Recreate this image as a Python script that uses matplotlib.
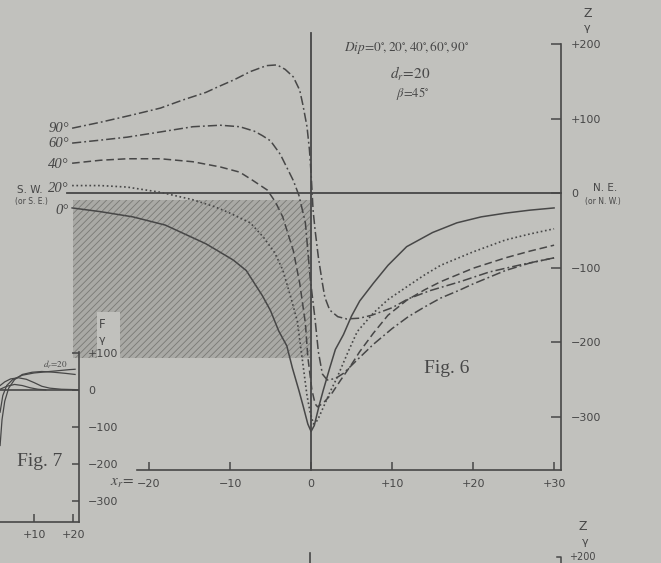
import matplotlib
matplotlib.use('Agg')
import matplotlib.pyplot as plt
from matplotlib.patches import Rectangle

plt.rcParams['mathtext.fontset'] = 'stix'
plt.rcParams['hatch.linewidth'] = 0.6

BG = '#c1c1bd'
INK = '#474747'
SERIF = 'Liberation Serif'

# ---------------- Fig. 6 data : Z (gamma) vs x_r, d_r = 20, beta = 45 deg ----------------
dip_labels = ['0°', '20°', '40°', '60°', '90°']

x_dip0 = [-29.5, -26, -22, -18, -15.8, -13, -11.6, -9.6, -8, -6, -5, -4, -3, -2.3, -1.5, -1, -0.4, 0,
          0.4, 1, 1.5, 2.3, 3, 4, 5, 6, 7.7, 9.5, 11.8, 15, 18, 21, 24, 27, 30]
z_dip0 = [-20, -25, -32, -43, -54, -68, -77, -90, -104, -138, -158, -185, -205, -235, -265, -285, -310, -320,
          -312, -285, -265, -235, -210, -190, -165, -145, -121, -97, -72, -53, -40, -32, -27, -23, -20]

x_dip20 = [-29.5, -26, -22.7, -18.6, -14.6, -12, -10.2, -7.5, -5.9, -4.5, -3.5, -2.5, -1.7, -1, -0.5, -0.1,
           0.3, 0.8, 1.5, 2.3, 3.2, 4.5, 5.7, 7.7, 9.5, 11.8, 14, 16, 20, 24, 27, 30]
z_dip20 = [10, 10, 8, 1, -9, -18, -26, -40, -59, -80, -103, -140, -172, -230, -272, -295,
           -310, -305, -288, -268, -248, -215, -186, -161, -143, -126, -110, -97, -79, -63, -55, -48]

x_dip40 = [-29.5, -26, -22.7, -18.6, -14.6, -11.2, -8.8, -7.2, -5.4, -4.4, -3.5, -2.2, -1.4, -0.7, -0.4, 0.1,
           0.5, 0.8, 1.5, 2.5, 3.6, 5, 6, 7.7, 9.5, 11.8, 14, 16, 20, 24, 27, 30]
z_dip40 = [40, 44, 46, 46, 42, 35, 28, 17, 4, -12, -32, -77, -121, -175, -220, -264,
           -283, -287, -282, -270, -252, -230, -213, -188, -164, -144, -130, -119, -101, -87, -78, -70]

x_dip60 = [-29.5, -26, -22.7, -18.6, -14.6, -11.2, -8.8, -7, -6, -5, -3.8, -2.2, -1.5, -0.7, -0.1, 0.5,
           0.9, 1.4, 2, 3, 4, 5.5, 7.7, 10, 12, 14, 16, 18.4, 20, 24, 27, 30]
z_dip60 = [67, 71, 75, 82, 89, 91, 89, 83, 77, 70, 52, 17, -3, -40, -115, -170,
           -213, -243, -251, -249, -242, -226, -203, -182, -166, -153, -141, -130, -122, -104, -94, -87]

x_dip90 = [-29.5, -26, -22, -18.6, -15.8, -13, -11.6, -9.5, -7.5, -5.5, -4.2, -3.2, -2.2, -1.4, -1, -0.5,
           -0.2, 0, 0.25, 0.5, 0.9, 1.4, 1.7, 2.3, 3.3, 4.4, 6, 7.5, 10, 12, 14.7, 18.4, 22, 26, 30]
z_dip90 = [87, 95, 105, 114, 125, 135, 142, 152, 163, 171, 172, 166, 156, 138, 118, 89,
           58, 27, -23, -50, -86, -121, -140, -157, -166, -169, -168, -164, -154, -142, -131, -119, -106, -96, -87]

z_ticks = [200, 100, 0, -100, -200, -300]
z_ticklabels = ['+200', '+100', '0', '−100', '−200', '−300']
x_ticks = [-20, -10, 0, 10, 20, 30]
x_ticklabels = ['−20', '−10', '0', '+10', '+20', '+30']

# shaded block (part of the page)
shade_x = [-29.4, -0.1]
shade_z = [-222, -9]

# ---------------- Fig. 7 data : F (gamma) vs x_r ----------------
f7_x1 = [1.3, 1.8, 2.5, 3.5, 5, 7, 9.5, 12, 15, 18, 20.5]
f7_z1 = [-150, -80, -30, 5, 28, 42, 48, 50, 48, 45, 42]
f7_x2 = [1.3, 2, 3, 4.5, 7, 10, 13, 16, 19, 20.5]
f7_z2 = [-60, -15, 12, 28, 40, 46, 49, 52, 55, 56]
f7_x3 = [1.3, 2.5, 4, 6, 8, 10, 12, 14, 17, 20.5]
f7_z3 = [12, 22, 30, 33, 29, 20, 10, 5, 2, 1]
f7_x4 = [1.3, 3, 5, 7, 9, 11, 13]
f7_z4 = [2, 10, 15, 12, 6, 2, 0.5]
f7_yticks = [100, 0, -100, -200, -300]
f7_yticklabels = ['+100', '0', '−100', '−200', '−300']
f7_xticks = [10, 20]
f7_xticklabels = ['+10', '+20']

# ======================================================================
fig = plt.figure(figsize=(6.61, 5.63), dpi=100)
fig.patch.set_facecolor(BG)

ax = fig.add_axes([0, 0, 1, 1])
ax.set_facecolor('none')
ax.set_xlim(-38.4, 43.2)
ax.set_ylim(-496.6, 259.1)

ax.add_patch(Rectangle((shade_x[0], shade_z[0]), shade_x[1] - shade_x[0], shade_z[1] - shade_z[0],
                       facecolor='#a9a9a5', edgecolor='#7a7a76', hatch='/////', lw=0, zorder=1))
# clear box behind the "F / gamma" label of Fig. 7
ax.add_patch(Rectangle((-26.4, -221.5), 2.8, 61.5, facecolor=BG, lw=0, zorder=1.5))

# axis lines
ax.plot([-30.1, 30.9], [0, 0], color=INK, lw=1.3, zorder=2)
ax.plot([0, 0], [-372, 215], color=INK, lw=1.3, zorder=2)

styles = [
    dict(ls='-', lw=1.1),
    dict(ls=(0, (1, 1.6)), lw=1.2),
    dict(ls=(0, (5, 2.5)), lw=1.1),
    dict(ls=(0, (6, 2, 1.2, 2)), lw=1.1),
    dict(ls=(0, (6, 2, 1.2, 2)), lw=1.1),
]
series = [(x_dip0, z_dip0), (x_dip20, z_dip20), (x_dip40, z_dip40), (x_dip60, z_dip60), (x_dip90, z_dip90)]
for (xs, zs), st in zip(series, styles):
    ax.plot(xs, zs, color=INK, zorder=3, **st)

# dip labels at left end of each curve
for lab, (xs, zs), dz in zip(dip_labels, series, [-3, -4, -2, 0, 0]):
    ax.text(-29.9, zs[0] + dz, lab, ha='right', va='center', fontsize=10.5,
            family=SERIF, style='italic', color=INK)

# spines / ticks
for s in ['left', 'top']:
    ax.spines[s].set_visible(False)
ax.spines['right'].set_position(('data', 30.9))
ax.spines['right'].set_bounds(-372, 200)
ax.spines['bottom'].set_position(('data', -372))
ax.spines['bottom'].set_bounds(-21.5, 30.9)
for s in ['right', 'bottom']:
    ax.spines[s].set_color(INK)
    ax.spines[s].set_linewidth(1.2)
ax.yaxis.set_ticks_position('right')
ax.set_yticks(z_ticks)
ax.set_yticklabels(z_ticklabels)
ax.set_xticks(x_ticks)
ax.set_xticklabels(x_ticklabels)
ax.tick_params(axis='y', direction='in', length=7, width=1.1, pad=7, labelsize=8, colors=INK)
ax.tick_params(axis='x', direction='in', length=6, width=1.1, pad=6, labelsize=8, colors=INK)

ax.text(-21.9, -388, r'$x_r\!=$', ha='right', va='center', fontsize=11, color=INK)

ax.text(-34.7, 4, 'S. W.', ha='center', va='center', fontsize=7.5, color=INK)
ax.text(-34.5, -12, '(or S. E.)', ha='center', va='center', fontsize=5.5, color=INK)
ax.text(36.3, 7, 'N. E.', ha='center', va='center', fontsize=7.5, color=INK)
ax.text(36.0, -12, '(or N. W.)', ha='center', va='center', fontsize=5.5, color=INK)
ax.text(34.1, 241, 'Z', ha='center', va='center', fontsize=9, color=INK)
ax.text(34.1, 221, 'γ', ha='center', va='center', fontsize=8, color=INK)

ax.text(11.8, 196, r'$Dip\!=\!0^{\circ}\!,20^{\circ}\!,40^{\circ}\!,60^{\circ}\!,90^{\circ}$',
        ha='center', va='center', fontsize=9.5, color=INK)
ax.text(12.3, 160, r'$d_r\!=\!20$', ha='center', va='center', fontsize=11, color=INK)
ax.text(12.5, 134, r'$\beta\!=\!45^{\circ}$', ha='center', va='center', fontsize=9, color=INK)

ax.text(16.8, -235, 'Fig. 6', ha='center', va='center', fontsize=14, family=SERIF, color=INK)
ax.text(-33.5, -360, 'Fig. 7', ha='center', va='center', fontsize=14, family=SERIF, color=INK)

ax.text(-25.8, -177, 'F', ha='center', va='center', fontsize=8.5, color=INK)
ax.text(-25.8, -197, 'γ', ha='center', va='center', fontsize=8, color=INK)

# next figure on the page (at the bottom edge)
ax.text(33.6, -448, 'Z', ha='center', va='center', fontsize=9, color=INK)
ax.text(33.8, -469, 'γ', ha='center', va='center', fontsize=8, color=INK)
ax.text(31.9, -488, '+200', ha='left', va='center', fontsize=7, color=INK)
ax.plot([30.3, 30.9, 30.9], [-489, -489, -500], color=INK, lw=1.1)
ax.plot([-0.1, -0.1], [-483, -500], color=INK, lw=1.2)

# ---------------- Fig. 7 inset ----------------
ax7 = fig.add_axes([0, 41 / 563, 79 / 661, 177 / 563])
ax7.set_facecolor('none')
ax7.set_xlim(1.28, 21.5)
ax7.set_ylim(-356.8, 121.6)
ax7.plot([1.28, 21.5], [0, 0], color=INK, lw=1.2)
for xs, zs in [(f7_x1, f7_z1), (f7_x2, f7_z2), (f7_x3, f7_z3), (f7_x4, f7_z4)]:
    ax7.plot(xs, zs, color=INK, lw=0.9)
for s in ['left', 'top']:
    ax7.spines[s].set_visible(False)
ax7.spines['right'].set_bounds(-356.8, 103)
ax7.spines['bottom'].set_bounds(1.28, 21.5)
for s in ['right', 'bottom']:
    ax7.spines[s].set_color(INK)
    ax7.spines[s].set_linewidth(1.2)
ax7.yaxis.set_ticks_position('right')
ax7.set_yticks(f7_yticks)
ax7.set_yticklabels(f7_yticklabels)
ax7.set_xticks(f7_xticks)
ax7.set_xticklabels(f7_xticklabels)
ax7.tick_params(axis='y', direction='in', length=5, width=1.1, pad=6.5, labelsize=8, colors=INK)
ax7.tick_params(axis='x', direction='in', length=6, width=1.1, pad=6, labelsize=8, colors=INK)
ax7.text(15.5, 68, r'$d_r\!=\!20$', ha='center', va='center', fontsize=6.5, color=INK, clip_on=False)

fig.savefig('out.png', dpi=100, facecolor=BG)
